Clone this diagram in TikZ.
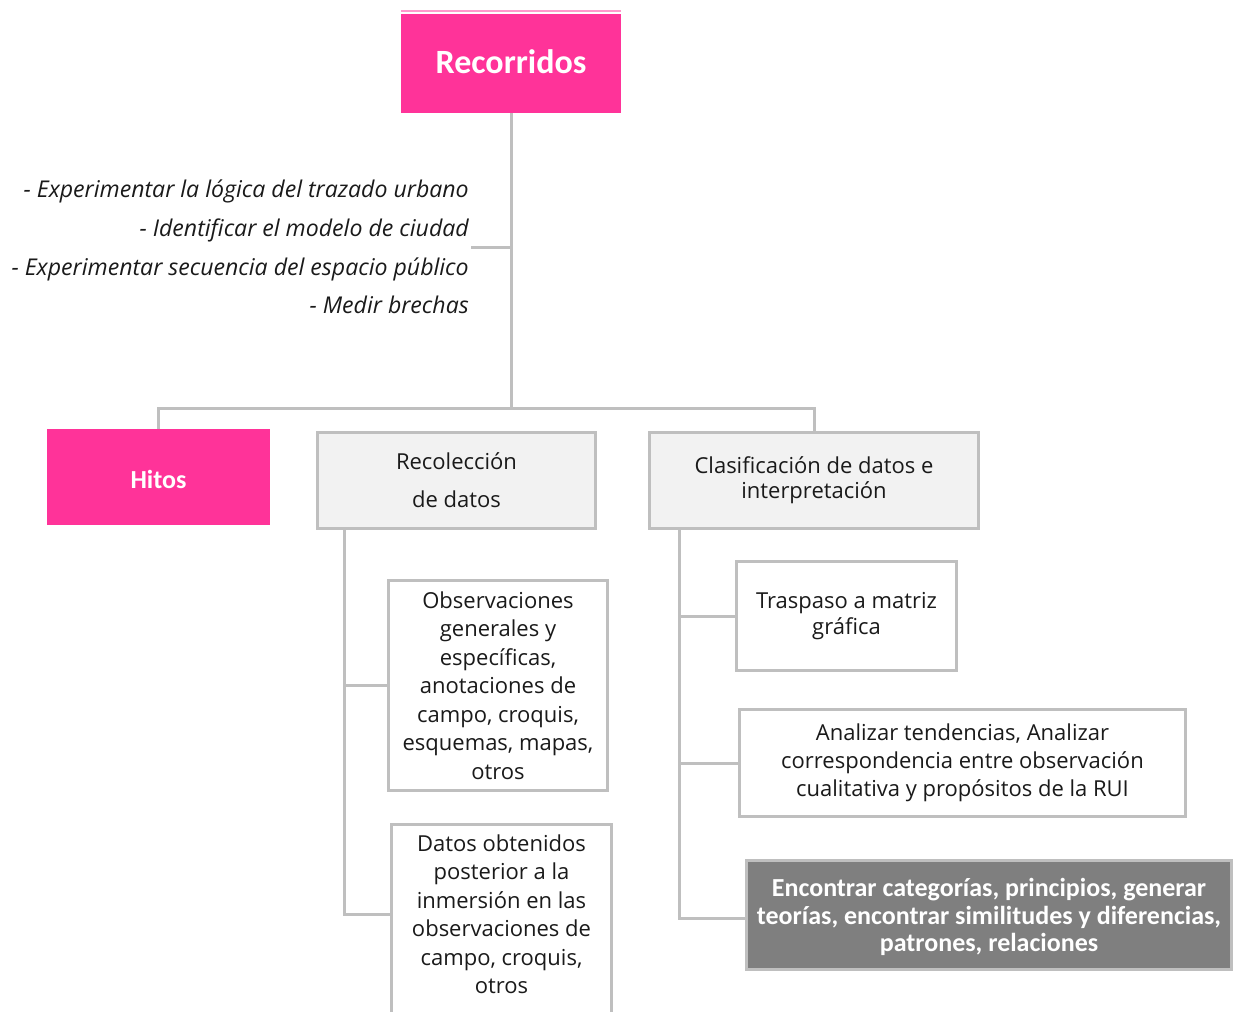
\documentclass[tikz,border=0pt]{standalone}
\usepackage{fontspec}
\setmainfont{Open Sans}
\newfontfamily\carlito{Carlito}
\definecolor{pinkc}{HTML}{FF3399}
\definecolor{pinkl}{HTML}{FF99CC}
\definecolor{lineg}{HTML}{BFBFBF}
\definecolor{fillg}{HTML}{F2F2F2}
\definecolor{darkg}{HTML}{7F7F7F}
\definecolor{txt}{HTML}{1A1A1A}
\tikzset{
  conn/.style={draw=lineg, line width=3pt},
  pinkbox/.style={fill=pinkc, text=white, inner sep=0pt, align=center, font=\carlito\bfseries},
  graybox/.style={draw=lineg, line width=3pt, fill=fillg, text=txt, inner sep=0pt, align=center, font=\fontsize{22}{28}\selectfont},
  whitebox/.style={draw=lineg, line width=3pt, fill=white, text=txt, inner sep=0pt, align=center, font=\fontsize{22}{28.5}\selectfont},
  darkbox/.style={draw=lineg, line width=3pt, fill=darkg, text=white, inner sep=0pt, align=center, font=\carlito\bfseries\fontsize{26}{27.5}\selectfont},
  plaintxt/.style={inner sep=0pt, text=txt, align=center, font=\fontsize{22}{28.5}\selectfont},
}
\begin{document}
\begin{tikzpicture}[x=1pt,y=-1pt]
\useasboundingbox (0,0) rectangle (1237,1012);
\begin{scope}
\clip (0,0) rectangle (1237,1012);
% top box
\node[pinkbox, minimum width=220pt, minimum height=99pt] (rec) at (511,63.5) {};
\node[text=white, inner sep=0pt, font=\carlito\bfseries\fontsize{34}{36}\selectfont] (rectxt) at (511,61.5) {Recorridos};
\draw[pinkl, line width=1.5pt] (rec.north west) ++(0,-3) coordinate (pl1) -- (pl1 -| rec.north east);
% objectives list
\node[inner sep=0pt, anchor=east, align=right, text=txt, font=\itshape\fontsize{23.1}{38.7}\selectfont] (list) at (469,247) {- Experimentar la lógica del trazado urbano\\- Identificar el modelo de ciudad\\- Experimentar secuencia del espacio público\\- Medir brechas};
% second level
\node[pinkbox, minimum width=223pt, minimum height=96pt] (hitos) at (158.5,477) {};
\node[text=white, inner sep=0pt, font=\carlito\bfseries\fontsize{26}{28}\selectfont] (hitostxt) at (158.5,479) {Hitos};
\node[graybox, minimum width=278pt, minimum height=96pt] (recol) at (456.5,480.5) {Recolección\\[10pt]de datos};
\node[graybox, minimum width=329pt, minimum height=96pt, font=\fontsize{22}{25}\selectfont] (clas) at (814,480.5) {Clasificación de datos e\\interpretación};
% left branch
\node[whitebox, minimum width=219pt, minimum height=210pt] (obs) at (498,685.5) {Observaciones\\generales y\\específicas,\\anotaciones de\\campo, croquis,\\esquemas, mapas,\\otros};
\node[whitebox, minimum width=220pt, minimum height=220pt, anchor=north] (datos) at (501.5,822.5) {};
\node[plaintxt] (datostxt) at (501.5,914) {Datos obtenidos\\posterior a la\\inmersión en las\\observaciones de\\campo, croquis,\\otros};
% right branch
\node[whitebox, minimum width=220pt, minimum height=109pt, font=\fontsize{22}{26}\selectfont] (tras) at (846.5,616) {Traspaso a matriz\\gráfica};
\node[whitebox, minimum width=446pt, minimum height=107pt, font=\fontsize{22}{28}\selectfont] (anal) at (962.5,763) {Analizar tendencias, Analizar\\correspondencia entre observación\\cualitativa y propósitos de la RUI};
\node[darkbox, minimum width=485pt, minimum height=109pt] (enc) at (989,915) {};
\node[text=white, inner sep=0pt, align=center, font=\carlito\bfseries\fontsize{26}{27.5}\selectfont] (enctxt) at (989,917) {Encontrar categorías, principios, generar\\teorías, encontrar similitudes y diferencias,\\patrones, relaciones};
% connectors
\coordinate (bar) at (511,408);
\draw[conn] (rec.south) -- (bar);
\draw[conn] (list.east -| rec.south) -- ([xshift=2pt]list.east);
\draw[conn] (hitos.north) |- (bar) -| (clas.north);
\coordinate (lt) at ([xshift=28.5pt]recol.south west);
\draw[conn] (lt) |- (datostxt -| datos.west);
\draw[conn] (lt |- obs.west) -- (obs.west);
\coordinate (rt) at ([xshift=31.5pt]clas.south west);
\draw[conn] (rt) |- ([yshift=-3pt]enc.west);
\draw[conn] (rt |- tras.west) -- (tras.west);
\draw[conn] (rt |- anal.west) -- (anal.west);
\end{scope}
\end{tikzpicture}
\end{document}
